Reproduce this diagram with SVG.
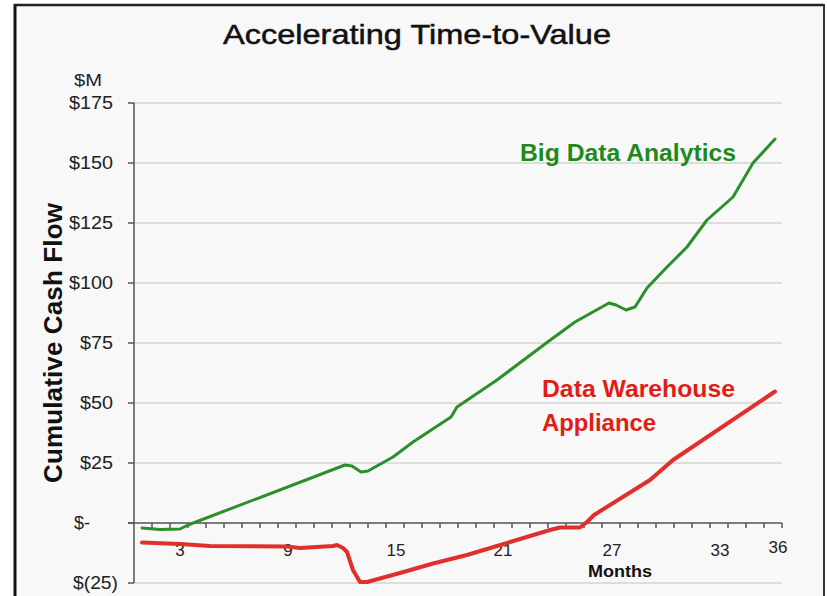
<svg xmlns="http://www.w3.org/2000/svg" width="827" height="596" viewBox="0 0 827 596">
  <style>
    .grid { stroke: #d4d4d4; stroke-width: 1.5; fill: none; }
    .axis { stroke: #555; stroke-width: 1.5; fill: none; }
    .ylab { font-family: "Liberation Sans", Arial, sans-serif; font-size: 18px; fill: #222; text-anchor: end; }
    .xlab { font-family: "Liberation Sans", Arial, sans-serif; font-size: 17px; fill: #222; text-anchor: middle; }
    .bold { font-family: "Liberation Sans", Arial, sans-serif; font-weight: bold; }
  </style>
  <rect x="0" y="0" width="827" height="596" fill="#ffffff"/>
  <rect x="15" y="5" width="809" height="600" fill="#f8f8f8"/>
  <g id="frame">
    <line x1="15" y1="4" x2="15" y2="596" stroke="#111" stroke-width="3"/>
    <line x1="14" y1="5" x2="824" y2="5" stroke="#222" stroke-width="2.5"/>
    <line x1="824" y1="4" x2="824" y2="596" stroke="#333" stroke-width="2"/>
  </g>
  <g id="title">
    <text x="417" y="44" font-family="Liberation Sans, Arial, sans-serif" font-size="28" fill="#111" stroke="#111" stroke-width="0.5" text-anchor="middle" textLength="388" lengthAdjust="spacingAndGlyphs">Accelerating Time-to-Value</text>
  </g>
  <g id="gridlines">
    <line class="grid" x1="134" y1="103" x2="782" y2="103"/>
    <line class="grid" x1="134" y1="163" x2="782" y2="163"/>
    <line class="grid" x1="134" y1="223" x2="782" y2="223"/>
    <line class="grid" x1="134" y1="283" x2="782" y2="283"/>
    <line class="grid" x1="134" y1="343" x2="782" y2="343"/>
    <line class="grid" x1="134" y1="403" x2="782" y2="403"/>
    <line class="grid" x1="134" y1="463" x2="782" y2="463"/>
    <line class="grid" x1="134" y1="583" x2="782" y2="583"/>
  </g>
  <g id="y-axis">
    <line class="axis" x1="134" y1="103" x2="134" y2="583"/>
    <path class="axis" d="M128,103H134M128,163H134M128,223H134M128,283H134M128,343H134M128,403H134M128,463H134M128,523H134M128,583H134"/>
    <text x="88" y="86" font-family="Liberation Sans, Arial, sans-serif" font-size="16" fill="#222" text-anchor="middle" textLength="28" lengthAdjust="spacingAndGlyphs">$M</text>
    <text class="ylab" x="113" y="109" textLength="44" lengthAdjust="spacingAndGlyphs">$175</text>
    <text class="ylab" x="113" y="169" textLength="44" lengthAdjust="spacingAndGlyphs">$150</text>
    <text class="ylab" x="113" y="229" textLength="44" lengthAdjust="spacingAndGlyphs">$125</text>
    <text class="ylab" x="113" y="289" textLength="44" lengthAdjust="spacingAndGlyphs">$100</text>
    <text class="ylab" x="113" y="349" textLength="33" lengthAdjust="spacingAndGlyphs">$75</text>
    <text class="ylab" x="113" y="409" textLength="33" lengthAdjust="spacingAndGlyphs">$50</text>
    <text class="ylab" x="113" y="469" textLength="33" lengthAdjust="spacingAndGlyphs">$25</text>
    <text class="ylab" x="90" y="529">$-</text>
    <text class="ylab" x="118" y="589" textLength="45" lengthAdjust="spacingAndGlyphs">$(25)</text>
    <text class="bold" transform="translate(62,343) rotate(-90)" font-size="26" fill="#111" text-anchor="middle" textLength="280" lengthAdjust="spacing">Cumulative Cash Flow</text>
  </g>
  <g id="x-axis">
    <line class="axis" x1="128" y1="523" x2="782" y2="523"/>
    <path class="axis" d="M152,523v5M170,523v5M188,523v5M206,523v5M224,523v5M242,523v5M260,523v5M278,523v5M296,523v5M314,523v5M332,523v5M350,523v5M368,523v5M386,523v5M404,523v5M422,523v5M440,523v5M458,523v5M476,523v5M494,523v5M512,523v5M530,523v5M548,523v5M566,523v5M584,523v5M602,523v5M620,523v5M638,523v5M656,523v5M674,523v5M692,523v5M710,523v5M728,523v5M746,523v5M764,523v5M782,523v5"/>
    <text class="xlab" x="180" y="556">3</text>
    <text class="xlab" x="288" y="556">9</text>
    <text class="xlab" x="396" y="556">15</text>
    <text class="xlab" x="503" y="556">21</text>
    <text class="xlab" x="612" y="556">27</text>
    <text class="xlab" x="720" y="556">33</text>
    <text class="xlab" x="778" y="553">36</text>
    <text class="bold" x="620" y="577" font-size="16" fill="#111" text-anchor="middle" textLength="64" lengthAdjust="spacingAndGlyphs">Months</text>
  </g>
  <g id="series">
    <path id="big-data" fill="none" stroke="#2b8f2b" stroke-width="3" stroke-linejoin="round" stroke-linecap="round" d="M142,528 L160,529.5 L180,529 L188,525 L345,465 L352,466 L361,472 L368,471 L393,457 L413,442 L451,417 L457,407 L497,380 L549,341 L575,322 L609,303 L616,305 L626,310 L635,307 L647,288 L667,267 L687,247 L707,220 L733,197 L753,163 L775,139"/>
    <path id="dw-appliance" fill="none" stroke="#e0302c" stroke-width="4" stroke-linejoin="round" stroke-linecap="round" d="M142,542.5 L180,544 L210,546 L287,546.5 L300,548 L333,546 L337,545 L343,548 L347,552 L353,570 L360,582 L367,582 L400,573 L433,563.5 L467,555 L497,546 L550,530 L560,527.5 L580,527.5 L587,522 L594,515 L650,480 L673,460 L775,391.5"/>
  </g>
  <g id="series-labels">
    <text class="bold" x="520" y="161" font-size="24.5" fill="#1e8a1e" textLength="216" lengthAdjust="spacingAndGlyphs">Big Data Analytics</text>
    <text class="bold" x="542" y="397" font-size="24" fill="#e21d15" textLength="193" lengthAdjust="spacingAndGlyphs">Data Warehouse</text>
    <text class="bold" x="542" y="431" font-size="24" fill="#e21d15" textLength="114" lengthAdjust="spacingAndGlyphs">Appliance</text>
  </g>
</svg>
